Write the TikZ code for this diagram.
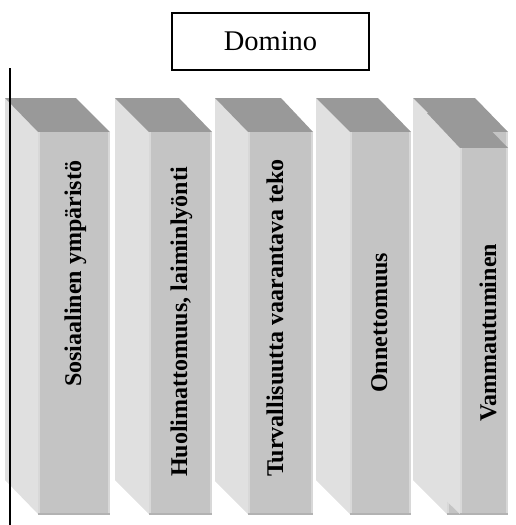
\documentclass[tikz,border=0pt]{standalone}
\usepackage{fontspec}
\setmainfont{Liberation Serif}
\definecolor{sidegray}{HTML}{E0E0E0}
\definecolor{topgray}{HTML}{999999}
\definecolor{frontgray}{HTML}{C4C4C4}
\definecolor{edgelight}{HTML}{D8D8D8}
\definecolor{edgedark}{HTML}{B2B2B2}
\tikzset{
  sideface/.style={fill=sidegray},
  topface/.style={fill=topgray},
  frontface/.style={fill=frontgray},
  lightrim/.style={draw=edgelight, line width=1.6pt},
  darkrim/.style={draw=edgedark, line width=1.6pt},
  blocklabel/.style={rotate=90, inner sep=0pt, font=\fontsize{24}{26}\selectfont\bfseries},
}
% #1 left of side panel, #2 left of front, #3 right of front,
% #4 right end of the back top edge, #5 top y, #6 front top y, #7 lower end of side panel
\newcommand\dominoblock[7]{%
  \fill[sideface] (#1,#5) -- (#2,#6) -- (#2,514) -- (#1,#7) -- cycle;
  \fill[topface] (#1,#5) -- (#4,#5) -- (#3,#6) -- (#2,#6) -- cycle;
  \fill[frontface] (#2,#6) rectangle (#3,515);
  \draw[lightrim] (#2+0.8,#6) -- (#2+0.8,513.5);
  \draw[lightrim] (#3-0.8,#6) -- (#3-0.8,513.5);
  \draw[darkrim] (#2,514.2) -- (#3,514.2);
}
\begin{document}
\begin{tikzpicture}[x=1pt,y=-1pt]
\useasboundingbox (0,0) rectangle (516,525);

% title box
\node[draw, line width=1.5pt, minimum width=197pt, minimum height=57pt,
      inner sep=0pt, font=\fontsize{28.5}{30}\selectfont] (title) at (270.5,41.5) {Domino};

% the row of dominoes
\dominoblock{5}{38}{110}{76}{98}{132}{480}
\dominoblock{115}{149}{212}{179}{98}{132}{480}
\dominoblock{215}{248}{313}{281}{98}{132}{481}
\dominoblock{316}{350}{411}{378}{98}{132}{480}
% the last domino, tipping over
\dominoblock{413}{447}{508}{475}{98}{132}{480}
\dominoblock{427}{460}{508}{474}{113}{148}{482}

% labels
\node[blocklabel, anchor=base west] (t1) at (81,387) {Sosiaalinen ympäristö};
\node[blocklabel, anchor=base] (t2) at (187,322) {Huolimattomuus, laiminlyönti};
\node[blocklabel, anchor=base] (t3) at (283,318) {Turvallisuutta vaarantava teko};
\node[blocklabel, anchor=base west] (t4) at (387,393) {Onnettomuus};
\node[blocklabel, anchor=base west] (t5) at (496,422) {Vammautuminen};

% vertical line at the left
\coordinate (linetop) at (10,68);
\coordinate (linebottom) at (10,525);
\draw[line width=1.4pt] (linetop) -- (linebottom);
\end{tikzpicture}
\end{document}
